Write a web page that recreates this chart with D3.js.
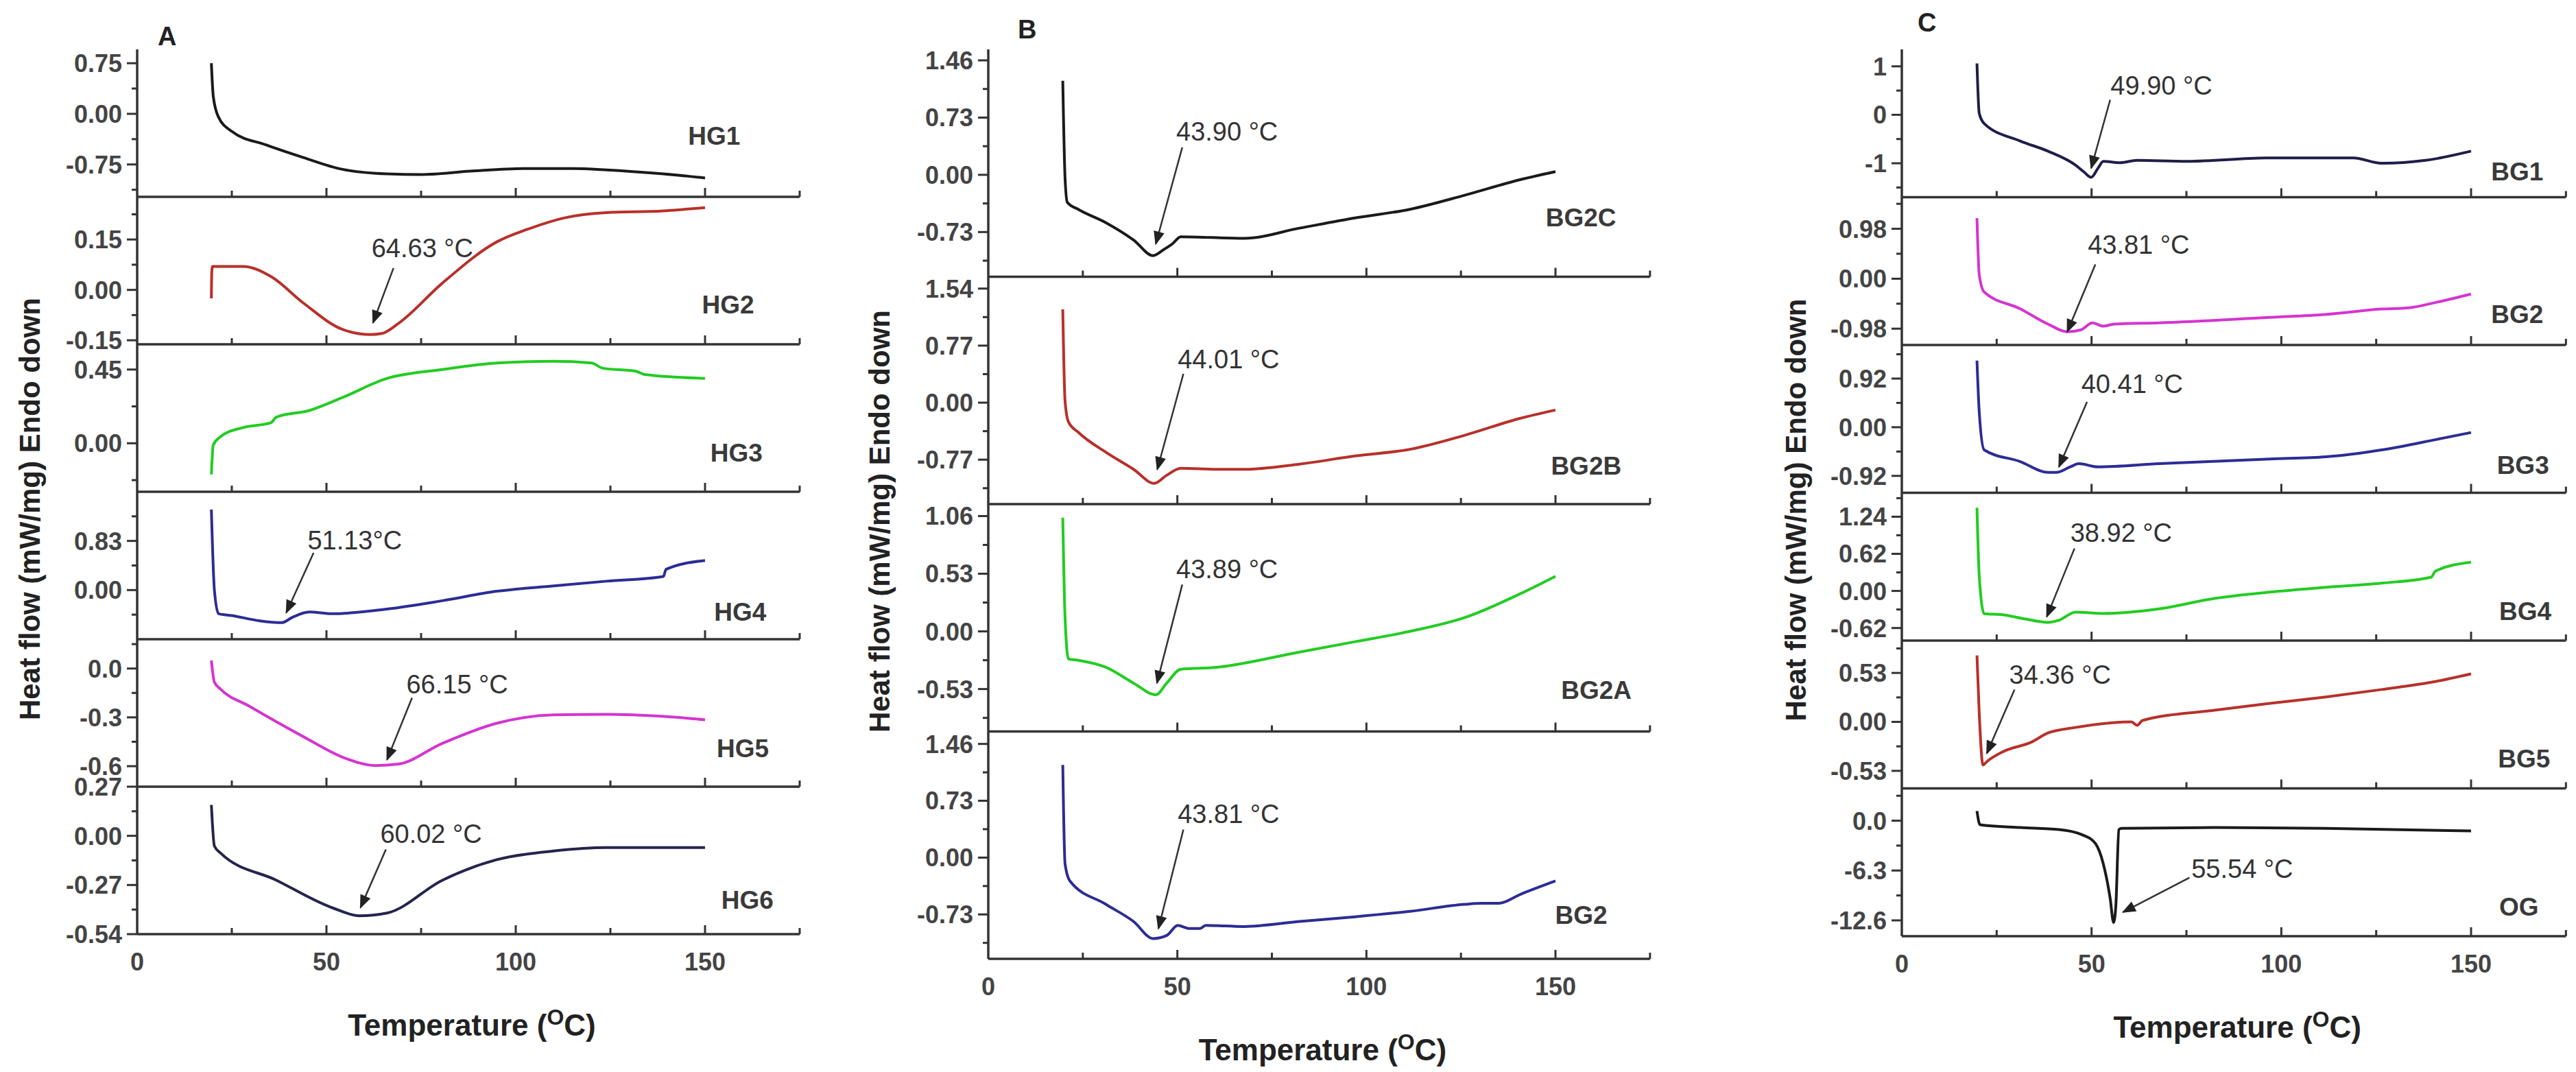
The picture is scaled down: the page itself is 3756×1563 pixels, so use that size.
<!DOCTYPE html>
<html>
<head>
<meta charset="utf-8">
<script src="https://cdn.jsdelivr.net/npm/d3@7"></script>
<style>
  body { margin: 0; background: #fff; }
  text { font-family: "Liberation Sans", Arial, sans-serif; }
</style>
</head>
<body>
<script>
// ---- curve data: [temperature °C, heat flow mW/mg] ----
const HG1 = [[19.6,0.75],[20.1,0.26],[21.5,-0.05],[25,-0.26],[34,-0.46],[44,-0.65],[54,-0.82],[66,-0.89],[75,-0.9],[88,-0.85],[102,-0.81],[115,-0.81],[124,-0.83],[139,-0.89],[150,-0.95]];
const HG2 = [[19.6,-0.025],[19.7,0.05],[19.9,0.07],[28,0.07],[35.3,0.04],[44,-0.04],[54.3,-0.118],[61.6,-0.133],[64.6,-0.13],[69,-0.10],[80.6,0.02],[95,0.143],[104,0.184],[112.7,0.214],[124,0.23],[139,0.235],[150,0.245]];
const HG3 = [[19.6,-0.19],[20.1,-0.01],[22,0.04],[28,0.096],[35.3,0.125],[36.8,0.16],[45.5,0.2],[54.3,0.28],[66,0.396],[80.6,0.45],[95,0.49],[110,0.5],[120,0.49],[123,0.458],[131.7,0.44],[134,0.42],[150,0.396]];
const HG4 = [[19.6,1.36],[20.4,0],[21.5,-0.40],[25,-0.43],[32.4,-0.52],[38.2,-0.55],[41,-0.46],[45.5,-0.37],[51.4,-0.40],[66,-0.32],[80.6,-0.18],[95,-0.02],[110,0.07],[124,0.15],[139,0.23],[139.7,0.35],[150,0.5]];
const HG5 = [[19.6,0.05],[20.4,-0.084],[22,-0.126],[29.5,-0.23],[44,-0.42],[54.3,-0.545],[63,-0.596],[69,-0.587],[80.6,-0.46],[95,-0.336],[110,-0.285],[124,-0.281],[139,-0.294],[150,-0.315]];
const HG6 = [[19.6,0.17],[20.4,-0.056],[22,-0.094],[36.8,-0.244],[51.4,-0.394],[58.7,-0.439],[66,-0.424],[80.6,-0.244],[95,-0.131],[110,-0.083],[124,-0.064],[150,-0.064]];

const BG2C = [[19.7,1.2],[20.3,-0.04],[20.9,-0.35],[23.8,-0.44],[31.1,-0.61],[38.4,-0.83],[43.6,-1.03],[46.5,-0.95],[48.7,-0.88],[50.9,-0.79],[67.7,-0.81],[82.3,-0.68],[97,-0.55],[111.5,-0.44],[126,-0.26],[140.8,-0.06],[150,0.04]];
const BG2B = [[19.7,1.26],[20.3,0.02],[21.2,-0.26],[23.8,-0.40],[31.1,-0.67],[38.4,-0.90],[43.9,-1.09],[47.2,-0.98],[50.9,-0.885],[60.4,-0.90],[67.7,-0.90],[82.3,-0.83],[97,-0.72],[111.5,-0.63],[126,-0.44],[140.8,-0.21],[150,-0.10]];
const BG2A = [[19.7,1.045],[20.3,0.127],[21.2,-0.253],[23.8,-0.266],[31.1,-0.33],[38.4,-0.475],[44.3,-0.583],[47.2,-0.475],[50.9,-0.348],[60.4,-0.33],[82.3,-0.19],[97,-0.095],[111.5,0],[126,0.127],[140.8,0.348],[150,0.507]];
const BG2 = [[19.7,1.19],[20.3,-0.08],[21.6,-0.30],[31.1,-0.60],[38.4,-0.82],[43.6,-1.04],[47.2,-1.0],[50.1,-0.87],[53,-0.91],[56,-0.91],[57.5,-0.87],[67.7,-0.885],[82.3,-0.82],[97,-0.76],[111.5,-0.69],[126,-0.60],[130.6,-0.587],[135,-0.587],[140.8,-0.47],[150,-0.30]];

const BG1c = [[19.8,1.06],[20.4,0.03],[21.7,-0.18],[31.2,-0.54],[38.5,-0.75],[45.8,-1.04],[48,-1.18],[49.9,-1.29],[51.7,-1.1],[53.1,-0.96],[57.5,-0.99],[62,-0.94],[75,-0.96],[97,-0.89],[119,-0.89],[126.4,-1.0],[138,-0.94],[150,-0.75]];
const BG2c = [[19.8,1.19],[20.4,0.08],[21.7,-0.26],[31.2,-0.59],[38.5,-0.89],[43.6,-1.04],[47.3,-1.0],[50.2,-0.865],[53.1,-0.93],[56,-0.89],[67.8,-0.865],[97,-0.757],[111.7,-0.70],[126.4,-0.595],[133.7,-0.57],[141,-0.46],[150,-0.30]];
const BG3c = [[19.8,1.26],[20.4,0.285],[21.7,-0.43],[31.2,-0.65],[38.5,-0.855],[40.7,-0.855],[44.4,-0.75],[46.6,-0.69],[51.7,-0.75],[67.8,-0.69],[97,-0.60],[111.7,-0.56],[126.4,-0.43],[141,-0.23],[150,-0.10]];
const BG4c = [[19.8,1.39],[20.4,0.25],[21.7,-0.38],[26.8,-0.40],[32.6,-0.47],[38.5,-0.525],[41.4,-0.49],[45.8,-0.354],[53.1,-0.377],[67.8,-0.30],[82.4,-0.126],[97,-0.02],[111.7,0.06],[126.4,0.13],[139.5,0.23],[140.6,0.33],[150,0.48]];
const BG5c = [[19.8,0.72],[20.4,0.09],[21.4,-0.467],[22.4,-0.43],[26.8,-0.32],[34.1,-0.22],[38.5,-0.12],[45.8,-0.06],[60.5,0],[62,-0.037],[63.4,0.015],[82.4,0.126],[97,0.2],[111.7,0.27],[126.4,0.35],[141,0.44],[150,0.52]];
const OG = [[19.8,1.22],[20.6,-0.52],[31.2,-0.87],[41.4,-1.13],[47.3,-1.74],[51,-2.87],[53.1,-5.47],[54.9,-9.82],[55.8,-12.86],[56.4,-10.7],[57.2,-1.13],[57.8,-0.96],[82.4,-0.87],[111.7,-0.96],[150,-1.3]];

// ---- tick labels per subplot ----
const ticksHG1 = [0.75, 0, -0.75], fmtHG1 = ["0.75", "0.00", "-0.75"];
const ticksHG2 = [0.15, 0, -0.15], fmtHG2 = ["0.15", "0.00", "-0.15"];
const ticksHG3 = [0.45, 0], fmtHG3 = ["0.45", "0.00"];
const ticksHG4 = [0.83, 0], fmtHG4 = ["0.83", "0.00"];
const ticksHG5 = [0, -0.3, -0.6], fmtHG5 = ["0.0", "-0.3", "-0.6"];
const ticksHG6 = [0.27, 0, -0.27, -0.54], fmtHG6 = ["0.27", "0.00", "-0.27", "-0.54"];
const ticksBG2C = [1.46, 0.73, 0, -0.73], fmtBG2C = ["1.46", "0.73", "0.00", "-0.73"];
const ticksBG2B = [1.54, 0.77, 0, -0.77], fmtBG2B = ["1.54", "0.77", "0.00", "-0.77"];
const ticksBG2A = [1.06, 0.53, 0, -0.53], fmtBG2A = ["1.06", "0.53", "0.00", "-0.53"];
const ticksBG2 = [1.46, 0.73, 0, -0.73], fmtBG2 = ["1.46", "0.73", "0.00", "-0.73"];
const ticksBG1c = [1, 0, -1], fmtBG1c = ["1", "0", "-1"];
const ticksBG2c = [0.98, 0, -0.98], fmtBG2c = ["0.98", "0.00", "-0.98"];
const ticksBG3c = [0.92, 0, -0.92], fmtBG3c = ["0.92", "0.00", "-0.92"];
const ticksBG4c = [1.24, 0.62, 0, -0.62], fmtBG4c = ["1.24", "0.62", "0.00", "-0.62"];
const ticksBG5c = [0.53, 0, -0.53], fmtBG5c = ["0.53", "0.00", "-0.53"];
const ticksOG = [0, -6.3, -12.6], fmtOG = ["0.0", "-6.3", "-12.6"];
const xTicks = [0, 50, 100, 150];

// subplot definitions: data, y domain, ticks, colour, sample label + position, annotation
const panels = [
  { letter: "A", x0: 200, x150: 1028, top: 72, bottom: 1362, titleX: 58, letterPos: [230, 66], subs: [
    { name: "HG1", data: HG1, dom: [-1.23, 0.955], ticks: ticksHG1, fmt: fmtHG1, color: "#1a1a1a", lab: [145.5, -0.46] },
    { name: "HG2", data: HG2, dom: [-0.162, 0.277], ticks: ticksHG2, fmt: fmtHG2, color: "#b8302a", lab: [149.2, -0.071], ann: ["64.63 °C", [61.9, 0.098], [67.7, 0.065], [62.3, -0.098]] },
    { name: "HG3", data: HG3, dom: [-0.296, 0.604], ticks: ticksHG3, fmt: fmtHG3, color: "#22cc22", lab: [151.4, -0.1125] },
    { name: "HG4", data: HG4, dom: [-0.83, 1.66], ticks: ticksHG4, fmt: fmtHG4, color: "#2c2c96", lab: [152.4, -0.52], ann: ["51.13°C", [45, 0.69], [46.6, 0.63], [39.4, -0.38]] },
    { name: "HG5", data: HG5, dom: [-0.726, 0.18], ticks: ticksHG5, fmt: fmtHG5, color: "#d534d0", lab: [153.1, -0.545], ann: ["66.15 °C", [71.1, -0.155], [72.6, -0.18], [66, -0.56]] },
    { name: "HG6", data: HG6, dom: [-0.54, 0.27], ticks: ticksHG6, fmt: fmtHG6, color: "#24244e", lab: [154.3, -0.40], ann: ["60.02 °C", [64.2, -0.0375], [65.7, -0.075], [59, -0.394]] }
  ]},
  { letter: "B", x0: 1441, x150: 2268, top: 72, bottom: 1398, titleX: 1297, letterPos: [1484, 56], subs: [
    { name: "BG2C", data: BG2C, dom: [-1.30, 1.60], ticks: ticksBG2C, fmt: fmtBG2C, color: "#1a1a1a", lab: [147.4, -0.657], ann: ["43.90 °C", [49.7, 0.44], [51.3, 0.35], [44.3, -0.88]] },
    { name: "BG2B", data: BG2B, dom: [-1.37, 1.70], ticks: ticksBG2B, fmt: fmtBG2B, color: "#b8302a", lab: [148.8, -0.968], ann: ["44.01 °C", [50.1, 0.46], [51.6, 0.39], [44.7, -0.90]] },
    { name: "BG2A", data: BG2A, dom: [-0.92, 1.17], ticks: ticksBG2A, fmt: fmtBG2A, color: "#22cc22", lab: [151.5, -0.62], ann: ["43.89 °C", [49.7, 0.49], [51.3, 0.43], [44.6, -0.475]] },
    { name: "BG2", data: BG2, dom: [-1.30, 1.62], ticks: ticksBG2, fmt: fmtBG2, color: "#2c2c96", lab: [149.9, -0.85], ann: ["43.81 °C", [50.1, 0.447], [51.6, 0.36], [45, -0.91]] }
  ]},
  { letter: "C", x0: 2773, x150: 3603, top: 72, bottom: 1365, titleX: 2633, letterPos: [2796, 46], subs: [
    { name: "BG1", data: BG1c, dom: [-1.70, 1.35], ticks: ticksBG1c, fmt: fmtBG1c, color: "#1e1e4a", lab: [155.3, -1.35], ann: ["49.90 °C", [55, 0.41], [54.9, 0.31], [49.9, -1.1]] },
    { name: "BG2", data: BG2c, dom: [-1.30, 1.60], ticks: ticksBG2c, fmt: fmtBG2c, color: "#d534d0", lab: [155.3, -0.865], ann: ["43.81 °C", [49, 0.487], [51, 0.28], [43.6, -1.04]] },
    { name: "BG3", data: BG3c, dom: [-1.24, 1.555], ticks: ticksBG3c, fmt: fmtBG3c, color: "#2c2c96", lab: [156.8, -0.88], ann: ["40.41 °C", [47.3, 0.648], [48.8, 0.48], [41.4, -0.75]] },
    { name: "BG4", data: BG4c, dom: [-0.83, 1.64], ticks: ticksBG4c, fmt: fmtBG4c, color: "#22cc22", lab: [157.4, -0.49], ann: ["38.92 °C", [44.4, 0.82], [45.5, 0.71], [38.2, -0.43]] },
    { name: "BG5", data: BG5c, dom: [-0.72, 0.88], ticks: ticksBG5c, fmt: fmtBG5c, color: "#b8302a", lab: [157.1, -0.49], ann: ["34.36 °C", [28.3, 0.415], [29.7, 0.35], [22.4, -0.34]] },
    { name: "OG", data: OG, dom: [-14.6, 4.08], ticks: ticksOG, fmt: fmtOG, color: "#1a1a1a", lab: [157.4, -12.0], ann: ["55.54 °C", [76.3, -7.2], [75.8, -7.2], [58.3, -11.56]] }
  ]}
];

const W = 3756, H = 1563;
const svg = d3.select("body").append("svg").attr("width", W).attr("height", H);
svg.append("defs").append("marker").attr("id", "arr").attr("viewBox", "0 0 10 10")
  .attr("refX", 9).attr("refY", 5).attr("markerWidth", 24).attr("markerHeight", 20)
  .attr("markerUnits", "userSpaceOnUse").attr("orient", "auto")
  .append("path").attr("d", "M0,1 L10,5 L0,9 Z").attr("fill", "#222");

const axisColor = "#333";

panels.forEach(p => {
  const x = d3.scaleLinear().domain([0, 150]).range([p.x0, p.x150]);
  const xEnd = x(175);
  const g = svg.append("g");
  const n = p.subs.length;
  const h = (p.bottom - p.top) / n;

  p.subs.forEach((s, i) => {
    const yTop = p.top + i * h, yBot = yTop + h;
    const y = d3.scaleLinear().domain(s.dom).range([yBot, yTop]);
    const sg = g.append("g");

    // minor y ticks (halfway between majors)
    const step = Math.abs(s.ticks[0] - s.ticks[1]);
    const minors = [];
    for (let v = s.ticks[0] + step / 2; v <= s.dom[1]; v += step) minors.push(v);
    for (let v = s.ticks[0] - step / 2; v >= s.dom[0]; v -= step) minors.push(v);
    sg.selectAll(".ymin").data(minors).join("line")
      .attr("x1", p.x0 - 8).attr("x2", p.x0).attr("y1", d => y(d)).attr("y2", d => y(d))
      .attr("stroke", axisColor).attr("stroke-width", 3);
    sg.selectAll(".ymaj").data(s.ticks).join("line")
      .attr("x1", p.x0 - 15).attr("x2", p.x0).attr("y1", d => y(d)).attr("y2", d => y(d))
      .attr("stroke", axisColor).attr("stroke-width", 3);
    sg.selectAll(".ylab").data(s.ticks).join("text")
      .attr("x", p.x0 - 22).attr("y", d => y(d)).attr("dy", "0.36em")
      .attr("text-anchor", "end").attr("font-size", 36).attr("font-weight", "bold")
      .attr("fill", "#444").text((d, k) => s.fmt[k]);

    // bottom border with inward x ticks
    sg.append("line").attr("x1", p.x0).attr("x2", xEnd).attr("y1", yBot).attr("y2", yBot)
      .attr("stroke", axisColor).attr("stroke-width", 3.5);
    sg.selectAll(".xt").data(d3.range(25, 176, 25)).join("line")
      .attr("x1", d => x(d)).attr("x2", d => x(d)).attr("y1", yBot).attr("y2", d => yBot - (d % 50 === 0 ? 13 : 9))
      .attr("stroke", axisColor).attr("stroke-width", 3);

    // curve
    sg.append("path").datum(s.data)
      .attr("d", d3.line().x(d => x(d[0])).y(d => y(d[1])).curve(d3.curveMonotoneX))
      .attr("fill", "none").attr("stroke", s.color).attr("stroke-width", 4)
      .attr("stroke-linejoin", "round");

    // sample label
    sg.append("text").attr("x", x(s.lab[0])).attr("y", y(s.lab[1]))
      .attr("font-size", 37).attr("font-weight", "bold").attr("fill", "#3a3a3a").text(s.name);

    // peak annotation
    if (s.ann) {
      const [txt, tp, tail, head] = s.ann;
      sg.append("text").attr("x", x(tp[0])).attr("y", y(tp[1]))
        .attr("font-size", 38).attr("fill", "#333").text(txt);
      sg.append("line").attr("x1", x(tail[0])).attr("y1", y(tail[1]))
        .attr("x2", x(head[0])).attr("y2", y(head[1]))
        .attr("stroke", "#333").attr("stroke-width", 2.5).attr("marker-end", "url(#arr)");
    }
  });

  // left axis
  g.append("line").attr("x1", p.x0).attr("x2", p.x0).attr("y1", p.top).attr("y2", p.bottom)
    .attr("stroke", axisColor).attr("stroke-width", 3.5);

  // x tick labels
  g.selectAll(".xl").data(xTicks).join("text")
    .attr("x", d => x(d)).attr("y", p.bottom + 53).attr("text-anchor", "middle")
    .attr("font-size", 36).attr("font-weight", "bold").attr("fill", "#444").text(d => d);

  // x title
  const xt = g.append("text").attr("x", (x(0) + xEnd) / 2 + 5).attr("y", p.bottom + 148)
    .attr("text-anchor", "middle").attr("font-size", 44).attr("font-weight", "bold").attr("fill", "#222");
  xt.append("tspan").text("Temperature (");
  xt.append("tspan").attr("dy", -16).attr("font-size", 32).text("O");
  xt.append("tspan").attr("dy", 16).text("C)");

  // y title
  g.append("text").attr("transform", `translate(${p.titleX},${(p.top + p.bottom) / 2 + 25}) rotate(-90)`)
    .attr("text-anchor", "middle").attr("font-size", 42).attr("font-weight", "bold").attr("fill", "#222")
    .text("Heat flow (mW/mg) Endo down");

  // panel letter
  g.append("text").attr("x", p.letterPos[0]).attr("y", p.letterPos[1])
    .attr("font-size", 38).attr("font-weight", "bold").attr("fill", "#222").text(p.letter);
});
</script>
</body>
</html>
